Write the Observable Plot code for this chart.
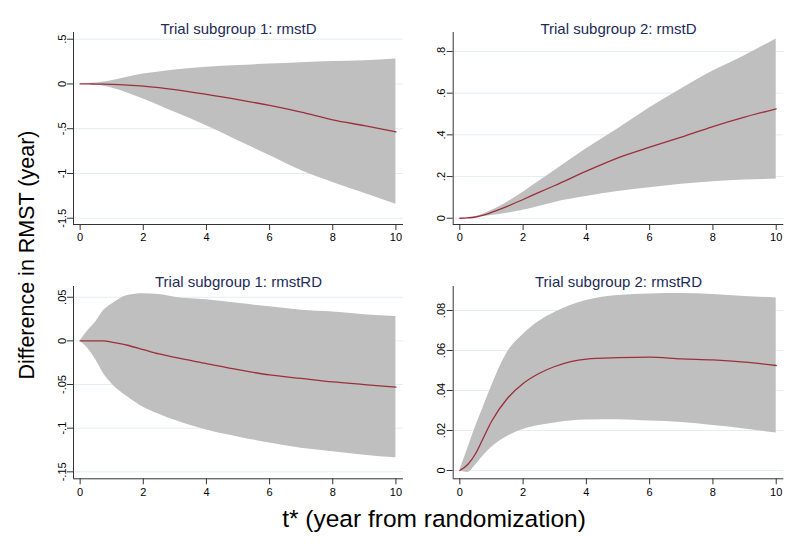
<!DOCTYPE html>
<html><head><meta charset="utf-8">
<script src="https://cdn.jsdelivr.net/npm/d3@7"></script>
<script src="https://cdn.jsdelivr.net/npm/@observablehq/plot@0.6"></script>
<style>
body{margin:0;background:#fff;}
#wrap{position:relative;width:800px;height:549px;background:#fff;font-family:"Liberation Sans",Arial,sans-serif;overflow:hidden;}
.panel{position:absolute;}
.lab{position:absolute;color:#000;white-space:nowrap;line-height:1;}
</style></head><body><div id="wrap"></div>
<script>
// time grid (years from randomization)
const t = [0, 0.25, 0.5, 0.75, 1, 1.5, 2, 2.5, 3, 4, 5, 6, 7, 8, 9, 10];
const xTicks = [0, 2, 4, 6, 8, 10];

// Trial subgroup 1: rmstD
const s1D_est   = [0, 0, -0.001, -0.002, -0.004, -0.012, -0.024, -0.042, -0.064, -0.117, -0.175, -0.24, -0.315, -0.40, -0.466, -0.535];
const s1D_lower = [0, -0.003, -0.01, -0.025, -0.045, -0.1, -0.168, -0.24, -0.317, -0.466, -0.633, -0.80, -0.968, -1.10, -1.22, -1.345];
const s1D_upper = [0, 0.003, 0.01, 0.022, 0.037, 0.075, 0.11, 0.135, 0.156, 0.186, 0.205, 0.223, 0.238, 0.25, 0.26, 0.28];
const s1D_ticks = [-1.5, -1, -0.5, 0, 0.5];

// Trial subgroup 2: rmstD
const s2D_est   = [0, 0.002, 0.006, 0.015, 0.028, 0.057, 0.09, 0.124, 0.157, 0.226, 0.29, 0.341, 0.389, 0.44, 0.485, 0.525];
const s2D_lower = [0, 0.001, 0.004, 0.008, 0.013, 0.024, 0.038, 0.056, 0.076, 0.104, 0.128, 0.146, 0.163, 0.175, 0.183, 0.188];
const s2D_upper = [0, 0.002, 0.008, 0.02, 0.037, 0.077, 0.125, 0.177, 0.229, 0.333, 0.429, 0.53, 0.62, 0.706, 0.78, 0.86];
const s2D_ticks = [0, 0.2, 0.4, 0.6, 0.8];

// Trial subgroup 1: rmstRD
const s1RD_est   = [0, 0, 0, 0, -0.0015, -0.005, -0.01, -0.015, -0.019, -0.026, -0.033, -0.039, -0.043, -0.047, -0.05, -0.053];
const s1RD_lower = [0, -0.009, -0.022, -0.038, -0.049, -0.064, -0.076, -0.084, -0.091, -0.102, -0.11, -0.117, -0.123, -0.127, -0.131, -0.134];
const s1RD_upper = [0, 0.012, 0.022, 0.035, 0.042, 0.052, 0.054, 0.053, 0.05, 0.047, 0.043, 0.039, 0.035, 0.033, 0.03, 0.028];
const s1RD_ticks = [-0.15, -0.1, -0.05, 0, 0.05];

// Trial subgroup 2: rmstRD
const s2RD_est   = [0, 0.003, 0.0085, 0.0165, 0.0245, 0.036, 0.0435, 0.0485, 0.052, 0.0557, 0.0564, 0.0567, 0.0558, 0.0553, 0.0542, 0.0525];
const s2RD_lower = [0, -0.001, 0.0027, 0.0075, 0.0115, 0.017, 0.0205, 0.0225, 0.0238, 0.0252, 0.0254, 0.0247, 0.024, 0.0225, 0.0208, 0.0187];
const s2RD_upper = [0, 0.011, 0.022, 0.032, 0.042, 0.059, 0.068, 0.0745, 0.079, 0.085, 0.0875, 0.0883, 0.0885, 0.088, 0.087, 0.0863];
const s2RD_ticks = [0, 0.02, 0.04, 0.06, 0.08];

const stataFmt = d => d === 0 ? "0" : String(d).replace(/^(-?)0\./, "$1.");

const xDomain = [-0.21, 10.24];
const wrap = document.getElementById("wrap");

function panel({title, est, lower, upper, yTicks, yDomain, left, top, width, height, mL, mT, mR, mB, titleY}) {
  const data = t.map((x, i) => ({t: x, est: est[i], lo: lower[i], hi: upper[i]}));
  const chart = Plot.plot({
    width, height,
    marginLeft: mL, marginTop: mT, marginRight: mR, marginBottom: mB,
    style: {fontFamily: '"Liberation Sans", Arial, sans-serif', fontSize: "11px", background: "transparent", overflow: "visible", color: "#000"},
    x: {domain: xDomain},
    y: {domain: yDomain},
    marks: [
      Plot.gridY(yTicks, {stroke: "#e4eef0", strokeOpacity: 1, strokeWidth: 1}),
      Plot.areaY(data, {x: "t", y1: "lo", y2: "hi", fill: "#bfbfbf", curve: "monotone-x"}),
      Plot.lineY(data, {x: "t", y: "est", stroke: "#9c2f3b", strokeWidth: 1.3, curve: "monotone-x"}),
      Plot.ruleX([xDomain[0]], {stroke: "#333", strokeWidth: 1}),
      Plot.ruleY([yDomain[0]], {stroke: "#333", strokeWidth: 1}),
      Plot.axisX(xTicks, {tickSize: 6, tickPadding: 3, tickFormat: d => String(d), label: null, stroke: "#333", fontSize: 11}),
      Plot.axisY(yTicks, {tickSize: 6, tickPadding: 2, tickRotate: -90, tickFormat: stataFmt, label: null, stroke: "#333", fontSize: 11}),
      Plot.text([title], {frameAnchor: "top", dy: -(mT - titleY), fontSize: 15, fill: "#1c2b57"})
    ]
  });
  chart.classList.add("panel");
  chart.style.left = left + "px";
  chart.style.top = top + "px";
  wrap.appendChild(chart);
}

panel({title: "Trial subgroup 1: rmstD", est: s1D_est, lower: s1D_lower, upper: s1D_upper, yTicks: s1D_ticks,
  yDomain: [-1.57, 0.575], left: 0, top: 0, width: 410, height: 250, mL: 73, mT: 32, mR: 7, mB: 26, titleY: 22.7});
panel({title: "Trial subgroup 2: rmstD", est: s2D_est, lower: s2D_lower, upper: s2D_upper, yTicks: s2D_ticks,
  yDomain: [-0.03, 0.891], left: 410, top: 0, width: 390, height: 250, mL: 42.7, mT: 32, mR: 16.7, mB: 26, titleY: 22.7});
panel({title: "Trial subgroup 1: rmstRD", est: s1RD_est, lower: s1RD_lower, upper: s1RD_upper, yTicks: s1RD_ticks,
  yDomain: [-0.158, 0.0623], left: 0, top: 250, width: 410, height: 260, mL: 73, mT: 36, mR: 7, mB: 31.7, titleY: 26});
panel({title: "Trial subgroup 2: rmstRD", est: s2RD_est, lower: s2RD_lower, upper: s2RD_upper, yTicks: s2RD_ticks,
  yDomain: [-0.00415, 0.092], left: 410, top: 250, width: 390, height: 260, mL: 42.7, mT: 36, mR: 16.7, mB: 31.7, titleY: 26});

const yl = document.createElement("div");
yl.className = "lab";
yl.textContent = "Difference in RMST (year)";
yl.style.fontSize = "21.5px";
yl.style.left = "27.5px"; yl.style.top = "255px";
yl.style.transform = "translate(-50%,-50%) rotate(-90deg)";
wrap.appendChild(yl);

const xl = document.createElement("div");
xl.className = "lab";
xl.textContent = "t* (year from randomization)";
xl.style.fontSize = "24.5px";
xl.style.left = "434px"; xl.style.top = "519px";
xl.style.transform = "translate(-50%,-50%)";
wrap.appendChild(xl);
</script></body></html>
